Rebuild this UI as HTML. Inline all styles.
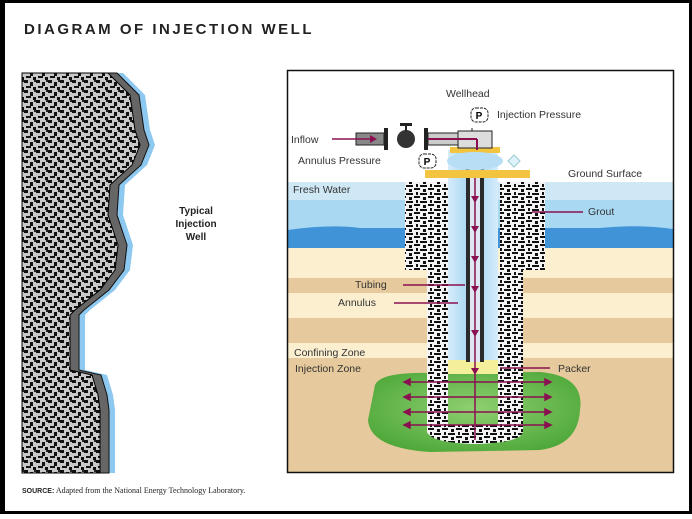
<!DOCTYPE html>
<html><head><meta charset="utf-8"><style>
html,body{margin:0;padding:0;background:#fff;}
body{width:692px;height:514px;overflow:hidden;position:relative;font-family:"Liberation Sans",sans-serif;}
</style></head><body>
<svg width="692" height="514" viewBox="0 0 692 514" xmlns="http://www.w3.org/2000/svg" font-family="Liberation Sans, sans-serif">
<defs>
<pattern id="spk" width="12" height="10" patternUnits="userSpaceOnUse">
<rect width="12" height="10" fill="#c8c8c8"/>
<rect x="0" y="0" width="4" height="3" fill="#111"/>
<rect x="6" y="2" width="3" height="4" fill="#111"/>
<rect x="2" y="6" width="5" height="2" fill="#111"/>
<rect x="9" y="7" width="3" height="3" fill="#111"/>
<rect x="10" y="0" width="2" height="2" fill="#222"/>
</pattern>
<pattern id="grout" width="14" height="8" patternUnits="userSpaceOnUse">
<rect width="14" height="8" fill="#f4f4f4"/>
<rect x="0" y="1" width="7" height="2" fill="#111"/>
<rect x="8" y="4" width="6" height="2" fill="#111"/>
<rect x="3" y="5" width="3" height="3" fill="#111"/>
<rect x="10" y="0" width="2" height="3" fill="#111"/>
</pattern>
<linearGradient id="ann" x1="0" x2="1"><stop offset="0" stop-color="#d6ecfa"/><stop offset=".5" stop-color="#9fd2f2"/><stop offset="1" stop-color="#d6ecfa"/></linearGradient>
<radialGradient id="grn" cx=".5" cy=".45" r=".6"><stop offset="0" stop-color="#8fd070"/><stop offset="1" stop-color="#4fa83a"/></radialGradient>
</defs>
<rect x="1.5" y="1.5" width="689" height="511" fill="#fff" stroke="#000" stroke-width="3"/>
<rect x="0" y="0" width="5" height="514" fill="#000"/>
<text x="24" y="34" font-size="15" font-weight="bold" letter-spacing="2.5" fill="#222">DIAGRAM OF INJECTION WELL</text>

<g transform="translate(15,0)"><path d="M22,73 L108,73 L130,95 L135,130 L140,145 L132,165 L110,185 L108,215 L118,245 L115,270 L100,290 L75,310 L70,315 L70,370 L92,375 L98,395 L100,410 L100,473 L22,473 Z" fill="#8cc8f0"/></g>
<g transform="translate(9,0)"><path d="M22,73 L108,73 L130,95 L135,130 L140,145 L132,165 L110,185 L108,215 L118,245 L115,270 L100,290 L75,310 L70,315 L70,370 L92,375 L98,395 L100,410 L100,473 L22,473 Z" fill="#666" stroke="#111" stroke-width="1"/></g>
<path d="M22,73 L108,73 L130,95 L135,130 L140,145 L132,165 L110,185 L108,215 L118,245 L115,270 L100,290 L75,310 L70,315 L70,370 L92,375 L98,395 L100,410 L100,473 L22,473 Z" fill="url(#spk)" stroke="#000" stroke-width="1"/>
<text font-size="10" font-weight="bold" fill="#222" text-anchor="middle"><tspan x="196" y="214">Typical</tspan><tspan x="196" y="227">Injection</tspan><tspan x="196" y="240">Well</tspan></text>

<rect x="288" y="71" width="385" height="401" fill="#fff"/>
<rect x="288" y="182" width="385" height="18" fill="#cfe8f6"/>
<rect x="288" y="200" width="385" height="30" fill="#a9d8f3"/>
<path d="M288,230 Q330,224 360,228 L600,228 Q640,224 673,229 L673,248 L288,248 Z" fill="#3f93d6"/>
<rect x="288" y="248" width="385" height="30" fill="#fbefd0"/>
<rect x="288" y="278" width="385" height="15" fill="#e6c99c"/>
<rect x="288" y="293" width="385" height="25" fill="#fbefd0"/>
<rect x="288" y="318" width="385" height="25" fill="#e6c99c"/>
<rect x="288" y="343" width="385" height="15" fill="#fbefd0"/>
<rect x="288" y="358" width="385" height="114" fill="#e6c99c"/>
<path d="M375,385 Q380,372 430,373 L540,372 Q585,376 580,410 Q578,445 540,450 L430,452 Q370,448 368,420 Z" fill="url(#grn)"/>
<rect x="405" y="182" width="43" height="88" fill="url(#grout)"/>
<rect x="500" y="182" width="45" height="88" fill="url(#grout)"/>
<rect x="427" y="270" width="21" height="160" fill="url(#grout)"/>
<rect x="498" y="270" width="25" height="160" fill="url(#grout)"/>
<path d="M427,425 L523,425 L523,432 Q520,443 475,444 Q432,443 427,432 Z" fill="url(#grout)"/>
<rect x="448" y="150" width="50" height="210" fill="url(#ann)"/>
<rect x="448" y="360" width="50" height="14" fill="#f3ef9a"/>
<rect x="466" y="140" width="18" height="222" fill="#2a2a2a"/>
<rect x="470" y="140" width="10" height="222" fill="#dde8f2"/>
<line x1="475" y1="150" x2="475" y2="440" stroke="#8a1050" stroke-width="1.5"/>
<g fill="#8a1050">
<path d="M471,196 L479,196 L475,203Z"/><path d="M471,226 L479,226 L475,233Z"/><path d="M471,256 L479,256 L475,263Z"/><path d="M471,286 L479,286 L475,293Z"/><path d="M471,330 L479,330 L475,337Z"/><path d="M471,368 L479,368 L475,375Z"/>
</g>
<g stroke="#8a1050" stroke-width="1.5" fill="#8a1050">
<line x1="410" y1="382" x2="545" y2="382"/><line x1="410" y1="397" x2="545" y2="397"/><line x1="410" y1="412" x2="545" y2="412"/><line x1="410" y1="425" x2="545" y2="425"/>
<path d="M410,379 L404,382 L410,385Z"/><path d="M545,379 L551,382 L545,385Z"/>
<path d="M410,394 L404,397 L410,400Z"/><path d="M545,394 L551,397 L545,400Z"/>
<path d="M410,409 L404,412 L410,415Z"/><path d="M545,409 L551,412 L545,415Z"/>
<path d="M410,422 L404,425 L410,428Z"/><path d="M545,422 L551,425 L545,428Z"/>
</g>
<rect x="425" y="170" width="105" height="8" fill="#f3c440"/>
<rect x="450" y="147" width="50" height="6" fill="#f3c440"/>
<ellipse cx="475" cy="161" rx="28" ry="9" fill="#b8def5"/>
<path d="M508,161 L514,155 L520,161 L514,167Z" fill="#dff1fb" stroke="#9cc" stroke-width="1"/>
<rect x="356" y="133" width="28" height="12" fill="#888" stroke="#222"/>
<rect x="384" y="128" width="4" height="22" fill="#222"/>
<circle cx="406" cy="139" r="9" fill="#333"/>
<rect x="400" y="123" width="12" height="3" fill="#222"/><rect x="405" y="123" width="2" height="8" fill="#222"/>
<rect x="424" y="128" width="4" height="22" fill="#222"/>
<rect x="428" y="133" width="30" height="12" fill="#ccc" stroke="#222"/>
<rect x="458" y="131" width="34" height="17" fill="#ddd" stroke="#222"/>
<line x1="472" y1="128" x2="472" y2="131" stroke="#222"/>
<line x1="428" y1="139" x2="477" y2="139" stroke="#8a1050" stroke-width="2"/>
<line x1="477" y1="139" x2="477" y2="150" stroke="#8a1050" stroke-width="2"/>
<line x1="332" y1="139" x2="372" y2="139" stroke="#8a1050" stroke-width="1.5"/>
<path d="M370,135 L377,139 L370,143Z" fill="#8a1050"/>
<rect x="471" y="108" width="17" height="14" rx="5" fill="#fff" stroke="#222" stroke-dasharray="3,1"/>
<text x="479" y="119" font-size="10" font-weight="bold" text-anchor="middle">P</text>
<rect x="419" y="154" width="17" height="14" rx="5" fill="#fff" stroke="#222" stroke-dasharray="3,1"/>
<text x="427" y="165" font-size="10" font-weight="bold" text-anchor="middle">P</text>
<g font-size="10.5" fill="#333">
<text x="446" y="97">Wellhead</text>
<text x="497" y="118">Injection Pressure</text>
<text x="291" y="143">Inflow</text>
<text x="298" y="164">Annulus Pressure</text>
<text x="568" y="177">Ground Surface</text>
<text x="293" y="193">Fresh Water</text>
<text x="588" y="215">Grout</text>
<text x="355" y="288">Tubing</text>
<text x="338" y="306">Annulus</text>
<text x="294" y="356">Confining Zone</text>
<text x="295" y="372">Injection Zone</text>
<text x="558" y="372">Packer</text>
</g>
<g stroke="#8a1050" stroke-width="1.5">
<line x1="532" y1="212" x2="583" y2="212"/><line x1="403" y1="285" x2="465" y2="285"/><line x1="394" y1="303" x2="458" y2="303"/><line x1="500" y1="368" x2="550" y2="368"/>
</g>
<rect x="287.5" y="70.5" width="386" height="402" fill="none" stroke="#111" stroke-width="1.5"/>
<text x="22" y="493" font-size="8" fill="#222" font-family="Liberation Serif, serif"><tspan font-weight="bold" font-family="Liberation Sans, sans-serif" font-size="7">SOURCE:</tspan> Adapted from the National Energy Technology Laboratory.</text>
</svg>
</body></html>
